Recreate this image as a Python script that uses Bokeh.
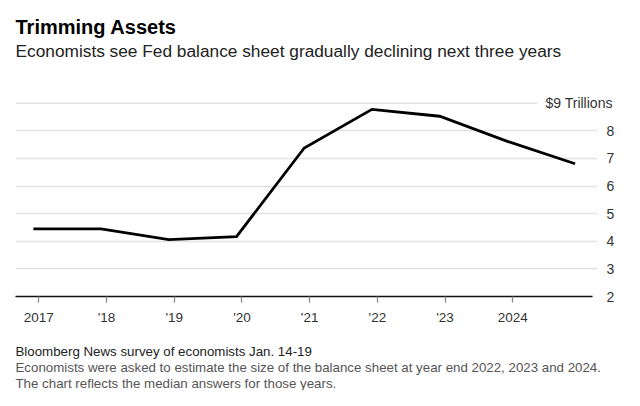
from bokeh.plotting import figure
from bokeh.models import Range1d, FixedTicker, Title, LinearAxis, ColumnDataSource
from bokeh.embed import file_html
from bokeh.resources import INLINE

# ---- data (Fed balance sheet, $ trillions, year end) ----
years = [2016, 2017, 2018, 2019, 2020, 2021, 2022, 2023, 2024]
balance_sheet = [4.45, 4.45, 4.06, 4.17, 7.38, 8.78, 8.53, 7.62, 6.81]
x_ticks = [2017, 2018, 2019, 2020, 2021, 2022, 2023, 2024]
x_tick_labels = ["2017", "'18", "'19", "'20", "'21", "'22", "'23", "2024"]
y_ticks = [2, 3, 4, 5, 6, 7, 8]
y_top_tick = 9
y_top_label = "$9 Trillions"

title_text = "Trimming Assets"
subtitle_text = "Economists see Fed balance sheet gradually declining next three years"
notes = [
    "Bloomberg News survey of economists Jan. 14-19",
    "Economists were asked to estimate the size of the balance sheet at year end 2022, 2023 and 2024.",
    "The chart reflects the median answers for those years.",
]

FONT = "Liberation Sans"
YEAR_END = 0.92  # points sit near year end

src = ColumnDataSource(dict(x=[y + YEAR_END for y in years], y=balance_sheet))

x0, x1 = 2016.656, 2025.251
p = figure(width=624, height=390, output_backend="svg", toolbar_location=None,
           x_range=Range1d(x0, x1), y_range=Range1d(2, 9.1),
           y_axis_location="right",
           min_border_left=15, min_border_right=27,
           min_border_top=100, min_border_bottom=92)
p.outline_line_color = None
p.background_fill_color = "white"
p.border_fill_color = "white"

# grid
p.xgrid.grid_line_color = None
p.ygrid.ticker = FixedTicker(ticks=y_ticks)
p.ygrid.grid_line_color = "#e2e2e2"
p.ygrid.grid_line_width = 1.5
# top gridline stops short of its label
p.segment(x0=[x0], y0=[y_top_tick], x1=[2024.365], y1=[y_top_tick],
          line_color="#e2e2e2", line_width=1.5)

# x axis
xa = p.xaxis[0]
xa.ticker = FixedTicker(ticks=x_ticks)
xa.major_label_overrides = {t: l for t, l in zip(x_ticks, x_tick_labels)}
xa.axis_line_color = "#111111"
xa.axis_line_width = 1.3
xa.bounds = (x0, 2025.177)
xa.major_tick_in = 0
xa.major_tick_out = 6
xa.major_tick_line_color = "#888888"
xa.major_tick_line_width = 1.3
xa.minor_tick_line_color = None
xa.major_label_standoff = 7
xa.major_label_text_font = FONT
xa.major_label_text_font_size = "13.5px"
xa.major_label_text_color = "#333333"


def style_y(ax, standoff):
    ax.axis_line_color = None
    ax.major_tick_line_color = None
    ax.minor_tick_line_color = None
    ax.major_tick_out = 0
    ax.major_tick_in = 0
    ax.major_label_standoff = standoff
    ax.major_label_text_font = FONT
    ax.major_label_text_font_size = "14px"
    ax.major_label_text_color = "#333333"


ya = p.yaxis[0]
ya.ticker = FixedTicker(ticks=y_ticks)
style_y(ya, 9)

ya2 = LinearAxis(ticker=FixedTicker(ticks=[y_top_tick]),
                 major_label_overrides={y_top_tick: y_top_label})
style_y(ya2, -72)
p.add_layout(ya2, "right")

# line
p.line("x", "y", source=src, line_color="black", line_width=2.8, line_join="miter")

# titles (stacked outward from the frame)
p.add_layout(Title(text=" ", text_font_size="1px", standoff=36), "above")  # spacer
p.add_layout(Title(text=subtitle_text, text_font=FONT, text_font_size="17.3px",
                   text_font_style="normal", text_color="#222222", align="left",
                   standoff=2), "above")
p.add_layout(Title(text=title_text, text_font=FONT, text_font_size="20px",
                   text_font_style="bold", text_color="#000000", align="left",
                   standoff=0), "above")

p.add_layout(Title(text=" ", text_font_size="1px", standoff=12), "below")  # spacer
for i, n in enumerate(notes):
    p.add_layout(Title(text=n, text_font=FONT, text_font_size="13.3px",
                       text_font_style="normal",
                       text_color="#222222" if i == 0 else "#555555",
                       align="left", standoff=-1), "below")

open("out.html", "w").write(file_html(p, INLINE))
